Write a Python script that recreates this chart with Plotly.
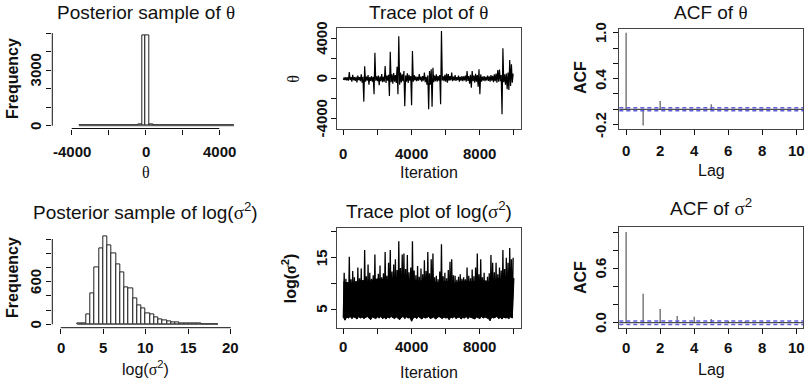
import plotly.graph_objects as go

W, H = 812, 383

# ---- histogram of theta (bins of 200 starting at -3600)
theta_bin_start = -3600
theta_bin_width = 200
theta_counts = [1, 0, 1, 0, 1, 1, 0, 1, 2, 1,
                2, 3, 3, 4, 6, 10, 80, 4870, 4880, 85,
                12, 6, 5, 4, 2, 3, 2, 1, 2, 1,
                1, 1, 0, 1, 0, 1, 0, 1, 0, 0,
                1, 1]

# ---- histogram of log(sigma^2) (bins of 0.5 starting at 2)
logsig_bin_start = 2.0
logsig_bin_width = 0.5
logsig_counts = [8, 18, 140, 440, 806, 1069, 1230, 1116, 1000, 846,
                 725, 516, 505, 370, 262, 225, 155, 140, 103, 70,
                 52, 38, 28, 23, 19, 14, 10, 8, 6, 4,
                 3, 2, 2]

# ---- traces, summarised per block of 100 iterations (low / high sample in block)
block_size = 100
theta_hi = [120, 150, 130, 660, 160, 380, 140, 170, 300, 150,
            420, 180, 1220, 200, 350, 160, 240, 180, 2580, 220,
            300, 200, 450, 180, 1260, 300, 380, 2680, 420, 560,
            350, 1190, 4200, 600, 420, 760, 300, 520, 380, 260,
            2740, 350, 220, 180, 450, 200, 260, 600, 180, 320,
            750, 925, 1090, 300, 420, 250, 350, 4730, 220, 380,
            500, 460, 250, 600, 200, 350, 160, 300, 180, 260,
            220, 300, 760, 250, 380, 760, 300, 480, 350, 925,
            420, 200, 250, 180, 300, 220, 350, 280, 420, 500,
            860, 900, 350, 3010, 420, 500, 600, 1850, 1420, 500]
theta_lo = [-120, -150, -180, -200, -140, -300, -160, -220, -380, -150,
            -250, -400, -2280, -300, -200, -600, -220, -300, -1550, -200,
            -260, -660, -250, -350, -300, -420, -200, -1720, -350, -500,
            -300, -420, -1550, -600, -380, -250, -2740, -300, -420, -200,
            -2640, -300, -180, -250, -200, -160, -300, -200, -350, -600,
            -3040, -600, -2780, -350, -250, -300, -200, -2550, -180, -250,
            -300, -400, -200, -160, -250, -180, -220, -150, -300, -200,
            -250, -180, -300, -220, -500, -890, -250, -400, -300, -800,
            -1550, -300, -200, -250, -180, -220, -300, -200, -350, -250,
            -400, -300, -250, -3540, -350, -600, -1060, -1120, -730, -400]

logsig_hi = [12.1, 10.9, 10.2, 15.2, 10.8, 12.4, 11.2, 10.5, 13.1, 11.0,
             12.9, 10.6, 16.5, 11.4, 13.7, 12.1, 10.9, 11.6, 15.6, 10.8,
             11.9, 13.5, 11.2, 12.0, 16.1, 11.5, 14.0, 16.5, 12.3, 13.7,
             14.7, 12.6, 18.2, 13.0, 15.6, 15.8, 12.8, 15.5, 12.2, 13.1,
             18.2, 12.5, 11.6, 13.4, 11.3, 12.9, 11.8, 14.5, 12.4, 16.1,
             12.0, 14.7, 15.8, 11.2, 11.5, 10.8, 12.3, 17.6, 11.4, 12.1,
             11.0, 12.6, 14.2, 14.7, 11.6, 11.5, 10.7, 11.3, 11.8, 10.9,
             11.2, 10.8, 13.1, 11.5, 11.0, 12.7, 11.4, 13.1, 15.8, 11.8,
             14.7, 11.2, 12.1, 10.6, 11.3, 12.0, 15.5, 14.0, 12.2, 14.0,
             11.8, 13.1, 12.5, 16.5, 12.8, 15.0, 14.0, 16.9, 14.7, 15.0]
logsig_lo = [3.4, 2.9, 3.5, 3.3, 3.6, 3.2, 3.5, 3.4, 3.1, 3.6,
             3.3, 3.5, 3.2, 3.4, 3.6, 3.3, 3.0, 3.5, 3.4, 3.2,
             3.5, 3.3, 3.6, 3.2, 3.4, 3.1, 3.5, 3.3, 3.6, 3.4,
             3.2, 3.5, 3.3, 3.0, 3.4, 3.6, 3.2, 3.5, 3.3, 3.4,
             2.7, 3.3, 3.5, 3.2, 3.6, 3.4, 3.1, 3.5, 3.3, 3.4,
             3.6, 3.2, 3.4, 3.5, 3.1, 3.3, 3.6, 3.4, 3.2, 3.5,
             3.3, 3.4, 3.0, 3.5, 3.3, 3.6, 3.2, 3.4, 3.5, 3.1,
             3.4, 3.3, 3.6, 3.2, 3.5, 3.4, 3.3, 3.1, 3.5, 3.4,
             3.2, 3.6, 3.3, 3.5, 3.4, 3.2, 2.8, 3.5, 3.3, 3.4,
             3.6, 3.2, 3.4, 3.1, 3.5, 3.3, 3.4, 3.2, 3.5, 3.3]
# top of the solid black mass of the log(sigma^2) chain, per 500 iterations
core_block = 500
logsig_core = [10.3, 10.0, 10.6, 10.4, 10.9, 10.7, 11.2, 11.0, 10.8, 10.5,
               10.6, 10.2, 10.4, 10.1, 10.5, 10.3, 10.6, 10.4, 10.9, 11.0]

# ---- autocorrelations
acf_lags = list(range(11))
acf_theta = [1.0, -0.21, 0.108, 0.008, 0.004, 0.065, -0.006, 0.003, 0.006, 0.002, -0.003]
acf_sigma = [1.0, 0.32, 0.15, 0.074, 0.066, 0.04, 0.022, 0.015, 0.01, 0.01, 0.005]
acf_ci = 0.0196

# ---- tick labels (R style: some ticks left unlabeled, "" = no label)
hist_theta_xt = [-4000, -2000, 0, 2000, 4000]
hist_theta_xl = ["-4000", "", "0", "", "4000"]
hist_theta_yt = [0, 1000, 2000, 3000, 4000, 5000]
hist_theta_yl = ["0", "", "", "3000", "", ""]
hist_sig_xt = [0, 5, 10, 15, 20]
hist_sig_xl = ["0", "5", "10", "15", "20"]
hist_sig_yt = [0, 200, 400, 600, 800, 1000, 1200]
hist_sig_yl = ["0", "", "", "600", "", "", ""]
iter_t = [0, 2000, 4000, 6000, 8000, 10000]
iter_l = ["0", "", "4000", "", "8000", ""]
trace_theta_yt = [-4000, -2000, 0, 2000, 4000]
trace_theta_yl = ["-4000", "", "0", "", "4000"]
trace_sig_yt = [5, 10, 15, 20]
trace_sig_yl = ["5", "", "15", ""]
lag_t = [0, 2, 4, 6, 8, 10]
lag_l = ["0", "2", "4", "6", "8", "10"]
acf_theta_yt = [-0.2, 0.0, 0.2, 0.4, 0.6, 0.8, 1.0]
acf_theta_yl = ["-0.2", "", "", "0.4", "", "", "1.0"]
acf_sig_yt = [0.0, 0.2, 0.4, 0.6, 0.8, 1.0]
acf_sig_yl = ["0.0", "", "", "0.6", "", ""]

SANS = "Liberation Sans, Arial, sans-serif"
TH = "<span style='font-family:Liberation Serif'>θ</span>"
LOGSIG = "log(<span style='font-family:Liberation Serif'>σ</span><sup>2</sup>)"
SIG2 = "<span style='font-family:Liberation Serif'>σ</span><sup>2</sup>"
INK = "#111111"
TICKFONT = dict(family=SANS, size=15, color=INK, weight="bold")


def px_x(a, b):
    return [a / W, b / W]


def px_y(top, bottom):
    return [1 - bottom / H, 1 - top / H]


def xaxis(domain, anchor, rng, tv, boxed):
    # x tick labels are drawn as annotations (see xlabels)
    return dict(domain=domain, anchor=anchor, range=rng, tickmode="array",
                tickvals=tv, showticklabels=False, ticks="outside", ticklen=5,
                tickwidth=1, tickcolor=INK, showgrid=False, zeroline=False,
                showline=boxed, mirror=boxed, linecolor="#444444", linewidth=1)


def yaxis(domain, anchor, rng, tv, boxed):
    # y tick labels are drawn as rotated annotations (see ylabels)
    return dict(domain=domain, anchor=anchor, range=rng, tickmode="array",
                tickvals=tv, showticklabels=False, ticks="outside", ticklen=5,
                tickwidth=1, tickcolor=INK, showgrid=False, zeroline=False,
                showline=boxed, mirror=boxed, linecolor="#444444", linewidth=1)


def ylabels(xa, ya, tv, tt, dist):
    out = []
    for v, t in zip(tv, tt):
        if t:
            out.append(dict(text=t, xref=xa + " domain", x=0, xshift=-dist,
                            yref=ya, y=v, showarrow=False, textangle=-90,
                            xanchor="center", yanchor="middle", font=TICKFONT))
    return out


def xlabels(xa, ya, tv, tt, dist):
    out = []
    for v, t in zip(tv, tt):
        if t:
            out.append(dict(text=t, xref=xa, x=v, yref=ya + " domain", y=0,
                            yshift=-dist, showarrow=False,
                            xanchor="center", yanchor="middle", font=TICKFONT))
    return out


def hist_bars(start, width, counts, xa, ya):
    lefts = [start + i * width for i in range(len(counts))]
    centers = [l + width / 2 for l in lefts]
    bars = go.Bar(x=centers, y=counts, width=width, xaxis=xa, yaxis=ya,
                  marker=dict(color="white", line=dict(color="#222222", width=1)),
                  showlegend=False)
    base = go.Scatter(x=[lefts[0], lefts[-1] + width], y=[0, 0], mode="lines",
                      line=dict(color="#555555", width=1), xaxis=xa, yaxis=ya,
                      showlegend=False)
    return [base, bars]


def zigzag(lo, hi, xa, ya, width=1):
    xs, ys = [], []
    for k in range(len(lo)):
        xs += [k * block_size + 1, k * block_size + block_size // 2 + 1]
        ys += [lo[k], hi[k]]
    return go.Scatter(x=xs, y=ys, mode="lines", line=dict(color="black", width=width),
                      xaxis=xa, yaxis=ya, showlegend=False)


def solid_mass(lo, core, xa, ya):
    # filled region between the lower envelope and the top of the dense part of the chain
    xs_lo = [k * block_size + 1 for k in range(len(lo))]
    xs_core = [k * core_block + 1 for k in range(len(core))] + [len(lo) * block_size]
    ys_core = core + [core[-1]]
    xs = xs_lo + xs_core[::-1]
    ys = lo + ys_core[::-1]
    return go.Scatter(x=xs, y=ys, mode="lines", fill="toself", fillcolor="black",
                      line=dict(color="black", width=1), xaxis=xa, yaxis=ya,
                      showlegend=False)


def stems(lags, vals, xa, ya):
    xs, ys = [], []
    for lag, v in zip(lags, vals):
        xs += [lag, lag, None]
        ys += [0, v, None]
    return go.Scatter(x=xs, y=ys, mode="lines", line=dict(color="#7a7a7a", width=1.5),
                      xaxis=xa, yaxis=ya, showlegend=False)


fig = go.Figure()
for t in hist_bars(theta_bin_start, theta_bin_width, theta_counts, "x", "y"):
    fig.add_trace(t)
for t in hist_bars(logsig_bin_start, logsig_bin_width, logsig_counts, "x4", "y4"):
    fig.add_trace(t)
fig.add_trace(zigzag(theta_lo, theta_hi, "x2", "y2", 1.2))
fig.add_trace(solid_mass(logsig_lo, logsig_core, "x5", "y5"))
fig.add_trace(zigzag(logsig_lo, logsig_hi, "x5", "y5", 1.3))
fig.add_trace(stems(acf_lags, acf_theta, "x3", "y3"))
fig.add_trace(stems(acf_lags, acf_sigma, "x6", "y6"))

# panel geometry in pixels: left, right, top, bottom
g = {
    1: (52.3, 238.7, 31.4, 128.5),
    2: (336.5, 520.8, 28.3, 129.0),
    3: (619.3, 803.3, 29.0, 129.0),
    4: (52.3, 238.4, 233.4, 327.7),
    5: (336.5, 520.8, 228.3, 327.7),
    6: (619.3, 803.3, 227.3, 327.7),
}

iter_rng = [-399, 10400]
lag_rng = [-0.4, 10.4]
layout_axes = {
    "xaxis": xaxis(px_x(*g[1][:2]), "y", [-5050, 5050], hist_theta_xt, False),
    "yaxis": yaxis(px_y(*g[1][2:]), "x", [-150, 5090], hist_theta_yt, False),
    "xaxis2": xaxis(px_x(*g[2][:2]), "y2", iter_rng, iter_t, True),
    "yaxis2": yaxis(px_y(*g[2][2:]), "x2", [-5000, 5000], trace_theta_yt, True),
    "xaxis3": xaxis(px_x(*g[3][:2]), "y3", lag_rng, lag_t, True),
    "yaxis3": yaxis(px_y(*g[3][2:]), "x3", [-0.257, 1.048], acf_theta_yt, True),
    "xaxis4": xaxis(px_x(*g[4][:2]), "y4", [-0.99, 20.9], hist_sig_xt, False),
    "yaxis4": yaxis(px_y(*g[4][2:]), "x4", [-48, 1279], hist_sig_yt, False),
    "xaxis5": xaxis(px_x(*g[5][:2]), "y5", iter_rng, iter_t, True),
    "yaxis5": yaxis(px_y(*g[5][2:]), "x5", [1.43, 20.7], trace_sig_yt, True),
    "xaxis6": xaxis(px_x(*g[6][:2]), "y6", lag_rng, lag_t, True),
    "yaxis6": yaxis(px_y(*g[6][2:]), "x6", [-0.055, 1.052], acf_sig_yt, True),
}

shapes = []
# R-style axis lines for the histograms, spanning first to last tick
for xa, ya, xt, yt in [("x", "y", hist_theta_xt, hist_theta_yt), ("x4", "y4", hist_sig_xt, hist_sig_yt)]:
    shapes.append(dict(type="line", xref=xa, yref=ya + " domain", x0=xt[0], x1=xt[-1], y0=0, y1=0,
                       line=dict(color=INK, width=1)))
    shapes.append(dict(type="line", xref=xa + " domain", yref=ya, x0=0, x1=0, y0=yt[0], y1=yt[-1],
                       line=dict(color=INK, width=1)))
# ACF zero line and confidence bands
for xa, ya in [("x3", "y3"), ("x6", "y6")]:
    shapes.append(dict(type="line", xref=xa + " domain", yref=ya, x0=0, x1=1, y0=0, y1=0,
                       line=dict(color="#222222", width=1)))
    for s in (-1, 1):
        shapes.append(dict(type="line", xref=xa + " domain", yref=ya, x0=0, x1=1,
                           y0=s * acf_ci, y1=s * acf_ci,
                           line=dict(color="#5f5fdc", width=1.5, dash="4px,3px")))


def note(text, xp, yp, size=16, angle=0, bold=False):
    if bold:
        text = "<b>" + text + "</b>"
    return dict(text=text, x=xp / W, y=1 - yp / H, xref="paper", yref="paper",
                showarrow=False, textangle=angle, xanchor="center", yanchor="middle",
                font=dict(family=SANS, size=size, color=INK))


annotations = [
    note("Posterior sample of " + TH, 145.5, 12.5, 19),
    note("Trace plot of " + TH, 428.7, 12, 19),
    note("ACF of " + TH, 711.3, 12, 19),
    note("Posterior sample of " + LOGSIG, 145.5, 211, 19),
    note("Trace plot of " + LOGSIG, 428.7, 210, 19),
    note("ACF of " + SIG2, 711.3, 207, 19),
    note(TH, 145.5, 173),
    note("Iteration", 428.7, 173),
    note("Lag", 711.3, 170),
    note(LOGSIG, 145.5, 368),
    note("Iteration", 428.7, 372),
    note("Lag", 711.3, 369),
    note("Frequency", 12, 79, angle=-90, bold=True),
    note(TH, 292.7, 79, angle=-90),
    note("ACF", 580, 78, angle=-90, bold=True),
    note("Frequency", 12, 278, angle=-90, bold=True),
    note(LOGSIG, 289.3, 278, angle=-90, bold=True),
    note("ACF", 580, 278, angle=-90, bold=True),
]
annotations += ylabels("x", "y", hist_theta_yt, hist_theta_yl, 17)
annotations += ylabels("x4", "y4", hist_sig_yt, hist_sig_yl, 17)
annotations += ylabels("x2", "y2", trace_theta_yt, trace_theta_yl, 15)
annotations += ylabels("x5", "y5", trace_sig_yt, trace_sig_yl, 15)
annotations += ylabels("x3", "y3", acf_theta_yt, acf_theta_yl, 19)
annotations += ylabels("x6", "y6", acf_sig_yt, acf_sig_yl, 19)
annotations += xlabels("x", "y", hist_theta_xt, hist_theta_xl, 23)
annotations += xlabels("x2", "y2", iter_t, iter_l, 24)
annotations += xlabels("x3", "y3", lag_t, lag_l, 21)
annotations += xlabels("x4", "y4", hist_sig_xt, hist_sig_xl, 20)
annotations += xlabels("x5", "y5", iter_t, iter_l, 19)
annotations += xlabels("x6", "y6", lag_t, lag_l, 20)

fig.update_layout(width=W, height=H, autosize=False,
                  margin=dict(l=0, r=0, t=0, b=0),
                  paper_bgcolor="white", plot_bgcolor="white",
                  bargap=0, showlegend=False,
                  shapes=shapes, annotations=annotations, **layout_axes)

# remove the default page margin so the figure sits at the window origin
fig.write_html("out.html", config={"displayModeBar": False},
               post_script="document.body.style.margin='0';document.body.style.overflow='hidden';")
